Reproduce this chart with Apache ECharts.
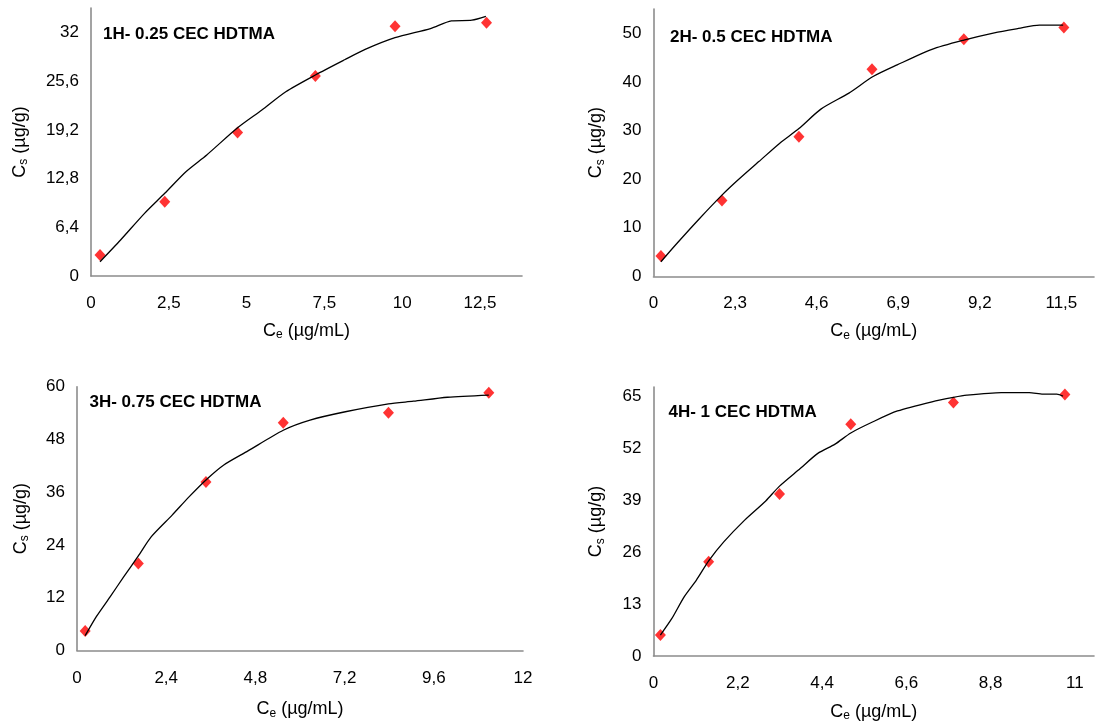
<!DOCTYPE html>
<html><head><meta charset="utf-8">
<script src="https://cdn.jsdelivr.net/npm/echarts@6/dist/echarts.min.js"></script>
<style>html,body{margin:0;padding:0;background:#fff}#c{width:1097px;height:726px}</style>
</head><body><div id="c"></div>
<script>
// ---- Panel 1: 1H- 0.25 CEC HDTMA ----
const p1X = [0.29, 2.37, 4.71, 7.21, 9.77, 12.71];
const p1Y = [2.76, 9.76, 18.86, 26.26, 32.8, 33.26];
const p1FitX = [0.29, 0.95, 1.72, 2.37, 3.05, 3.72, 4.71, 5.49, 6.26, 7.21, 8.15, 8.81, 9.77, 10.91, 11.58, 12.24, 12.69];
const p1FitY = [1.88, 4.73, 8.23, 10.86, 13.7, 15.9, 19.47, 21.8, 24.2, 26.4, 28.4, 29.76, 31.3, 32.5, 33.5, 33.6, 34.1];
const x1Ticks = [0, 2.5, 5, 7.5, 10, 12.5];
const y1Ticks = [0, 6.4, 12.8, 19.2, 25.6, 32];

// ---- Panel 2: 2H- 0.5 CEC HDTMA ----
const p2X = [0.21, 1.93, 4.10, 6.16, 8.75, 11.57];
const p2Y = [4.18, 15.6, 28.7, 42.6, 48.8, 51.2];
const p2FitX = [0.21, 0.62, 1.30, 1.93, 2.38, 2.97, 3.56, 4.10, 4.72, 5.51, 6.19, 6.87, 7.85, 8.75, 9.61, 10.29, 10.88, 11.55];
const p2FitY = [3.0, 6.44, 11.9, 16.7, 19.8, 23.6, 27.4, 30.4, 34.4, 37.7, 41.1, 43.5, 46.7, 48.6, 50.1, 51.0, 51.7, 51.7];
const x2Ticks = [0, 2.3, 4.6, 6.9, 9.2, 11.5];
const y2Ticks = [0, 10, 20, 30, 40, 50];

// ---- Panel 3: 3H- 0.75 CEC HDTMA ----
const p3X = [0.22, 1.65, 3.47, 5.55, 8.38, 11.08];
const p3Y = [4.43, 19.8, 38.3, 51.8, 54.1, 58.6];
const p3FitX = [0.22, 0.52, 0.89, 1.26, 1.65, 2.00, 2.56, 3.02, 3.47, 3.95, 4.60, 5.55, 6.27, 7.22, 8.38, 9.05, 9.97, 11.08];
const p3FitY = [3.37, 7.7, 12.2, 16.8, 21.5, 25.9, 30.8, 35.0, 38.8, 42.2, 45.4, 50.1, 52.4, 54.3, 56.1, 56.7, 57.6, 58.1];
const x3Ticks = [0, 2.4, 4.8, 7.2, 9.6, 12];
const y3Ticks = [0, 12, 24, 36, 48, 60];

// ---- Panel 4: 4H- 1 CEC HDTMA ----
const p4X = [0.18, 1.44, 3.29, 5.15, 7.83, 10.74];
const p4Y = [5.25, 23.6, 40.5, 58.0, 63.4, 65.4];
const p4FitX = [0.18, 0.48, 0.80, 1.12, 1.44, 1.84, 2.38, 2.93, 3.29, 3.83, 4.29, 4.74, 5.15, 5.73, 6.37, 7.27, 7.83, 8.18, 9.08, 9.81, 10.17, 10.53, 10.69];
const p4FitY = [5.25, 9.4, 14.8, 19.0, 23.8, 28.6, 34.0, 38.8, 42.5, 46.9, 50.7, 53.0, 55.8, 58.6, 61.3, 63.6, 64.7, 65.25, 65.9, 65.9, 65.5, 65.5, 65.0];
const x4Ticks = [0, 2.2, 4.4, 6.6, 8.8, 11];
const y4Ticks = [0, 13, 26, 39, 52, 65];

const titles = ['1H- 0.25 CEC HDTMA', '2H- 0.5 CEC HDTMA', '3H- 0.75 CEC HDTMA', '4H- 1 CEC HDTMA'];

const FONT = '"Liberation Sans", Arial, sans-serif';
function fmt(ticks) {
  return function (v) {
    for (const t of ticks) if (Math.abs(t - v) < 1e-6) return String(t).replace('.', ',');
    return '';
  };
}
function pairs(xs, ys) { return xs.map((x, i) => [x, ys[i]]); }

const panels = [
  {xs: p1X, ys: p1Y, fx: p1FitX, fy: p1FitY, xt: x1Ticks, yt: y1Ticks, xmax: 13.85, ymax: 35.2,
   grid: {left: 91, top: 8, width: 431, height: 268}, tpos: {left: 103, top: 26}, yGap: 61, xGap: 45},
  {xs: p2X, ys: p2Y, fx: p2FitX, fy: p2FitY, xt: x2Ticks, yt: y2Ticks, xmax: 12.42, ymax: 55,
   grid: {left: 653.5, top: 9, width: 443.5, height: 267.3}, tpos: {left: 670, top: 28.5}, yGap: 47, xGap: 45},
  {xs: p3X, ys: p3Y, fx: p3FitX, fy: p3FitY, xt: x3Ticks, yt: y3Ticks, xmax: 12, ymax: 60,
   grid: {left: 77, top: 386.7, width: 446, height: 263.8}, tpos: {left: 89.5, top: 393.5}, yGap: 46, xGap: 49},
  {xs: p4X, ys: p4Y, fx: p4FitX, fy: p4FitY, xt: x4Ticks, yt: y4Ticks, xmax: 11.5, ymax: 67.3,
   grid: {left: 653.5, top: 387, width: 443.5, height: 269}, tpos: {left: 668.5, top: 403.5}, yGap: 47, xGap: 46}
];

const axisLineStyle = {color: '#8c8c8c', width: 1.6};
const richName = {
  m: {fontSize: 18, fontFamily: FONT, color: '#000', lineHeight: 20},
  s: {fontSize: 12, fontFamily: FONT, color: '#000', lineHeight: 9, verticalAlign: 'bottom'}
};

const option = {
  animation: false,
  backgroundColor: '#fff',
  title: panels.map((p, i) => ({
    text: titles[i], left: p.tpos.left, top: p.tpos.top, padding: 0,
    textStyle: {fontSize: 17, fontWeight: 'bold', fontFamily: FONT, color: '#000'}
  })),
  grid: panels.map(p => Object.assign({containLabel: false}, p.grid)),
  xAxis: panels.map((p, i) => ({
    type: 'value', gridIndex: i, min: 0, max: p.xmax, interval: p.xt[1] - p.xt[0],
    axisLine: {show: true, lineStyle: axisLineStyle}, axisTick: {show: false}, splitLine: {show: false},
    axisLabel: {formatter: fmt(p.xt), fontSize: 17, fontFamily: FONT, color: '#000', margin: 19, showMaxLabel: true},
    name: '{m|C}{s|e}{m| (µg/mL)}', nameLocation: 'middle', nameGap: p.xGap,
    nameTextStyle: {rich: richName}
  })),
  yAxis: panels.map((p, i) => ({
    type: 'value', gridIndex: i, min: 0, max: p.ymax, interval: p.yt[1] - p.yt[0],
    axisLine: {show: true, lineStyle: axisLineStyle}, axisTick: {show: false}, splitLine: {show: false},
    axisLabel: {formatter: fmt(p.yt), fontSize: 17, fontFamily: FONT, color: '#000', margin: 12, showMaxLabel: true},
    name: '{m|C}{s|s}{m| (µg/g)}', nameLocation: 'middle', nameGap: p.yGap, nameRotate: 90,
    nameTextStyle: {rich: richName}
  })),
  series: panels.flatMap((p, i) => ([
    {type: 'scatter', xAxisIndex: i, yAxisIndex: i, data: pairs(p.xs, p.ys), symbol: 'diamond',
     symbolSize: [11, 12], itemStyle: {color: '#ff0000'}, z: 2, silent: true},
    {type: 'line', xAxisIndex: i, yAxisIndex: i, data: pairs(p.fx, p.fy), smooth: 0.25,
     showSymbol: false, lineStyle: {color: '#000', width: 1.3}, z: 3, silent: true}
  ]))
};
const chart = echarts.init(document.getElementById('c'), null, {renderer: 'canvas'});
chart.setOption(option);
</script></body></html>
